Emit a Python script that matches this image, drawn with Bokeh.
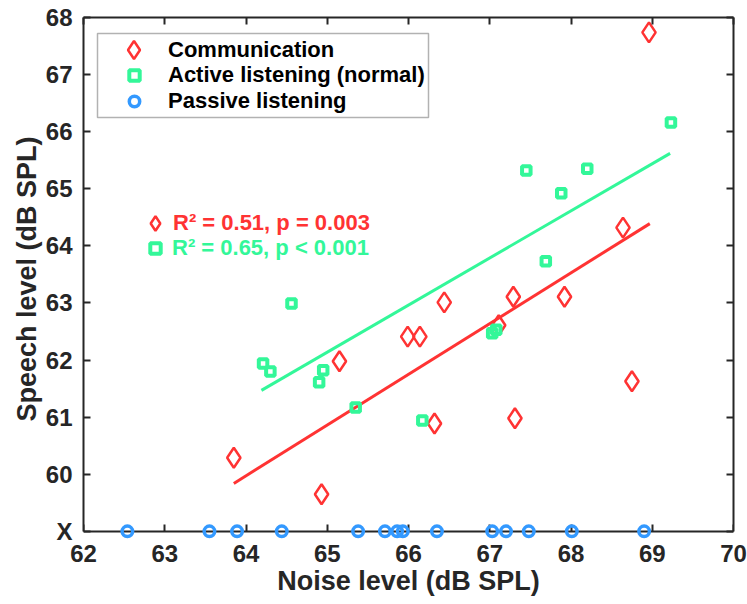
from bokeh.plotting import figure
from bokeh.models import (Range1d, LinearAxis, FixedTicker, Legend, LegendItem,
                          BoxAnnotation)
from bokeh.embed import file_html
from bokeh.resources import INLINE

# ---------------- data ----------------
comm_noise = [63.85, 64.93, 65.15, 65.99, 66.14, 66.32, 66.44, 67.11, 67.29, 67.31, 67.92, 68.64, 68.75, 68.96]
comm_speech = [60.29, 59.65, 61.98, 62.41, 62.41, 60.89, 63.01, 62.61, 63.11, 60.98, 63.11, 64.32, 61.63, 67.74]

active_noise = [64.21, 64.30, 64.56, 64.90, 64.95, 65.35, 66.17, 67.03, 67.08, 67.45, 67.69, 67.88, 68.20, 69.23]
active_speech = [61.94, 61.80, 62.99, 61.61, 61.82, 61.17, 60.94, 62.47, 62.53, 65.32, 63.73, 64.92, 65.35, 66.16]

passive_noise = [62.54, 63.55, 63.89, 64.44, 65.38, 65.71, 65.86, 65.93, 66.35, 67.03, 67.20, 67.48, 68.01, 68.90]
passive_speech = [59, 59, 59, 59, 59, 59, 59, 59, 59, 59, 59, 59, 59, 59]   # plotted on the "X" row

comm_fit_noise = [63.85, 68.97]
comm_fit_speech = [59.84, 64.39]
active_fit_noise = [64.19, 69.22]
active_fit_speech = [61.47, 65.62]

series_names = ["Communication", "Active listening (normal)", "Passive listening"]
stats_texts = ["R\u00b2 = 0.51, p = 0.003", "R\u00b2 = 0.65, p < 0.001"]
x_title = "Noise level (dB SPL)"
y_title = "Speech level (dB SPL)"

x_ticks = [62, 63, 64, 65, 66, 67, 68, 69, 70]
y_ticks = [59, 60, 61, 62, 63, 64, 65, 66, 67, 68]
y_tick_overrides = {59: "X"}

# ---------------- style ----------------
RED = "#FF3333"
GREEN = "#33F799"
BLUE = "#3399FF"
AX = "#262626"
FONT = "Liberation Sans"

p = figure(width=747, height=604, x_range=Range1d(62, 70), y_range=Range1d(58.84, 68),
           x_axis_type=None, y_axis_type=None, output_backend="svg", toolbar_location=None,
           min_border_left=83, min_border_right=14, min_border_top=17, min_border_bottom=64)
p.outline_line_color = None
p.xgrid.visible = False
p.ygrid.visible = False
p.background_fill_color = "white"
p.border_fill_color = "white"


def style_axis(ax, labels=True):
    ax.major_tick_in = 7
    ax.major_tick_out = 0
    ax.minor_tick_line_color = None
    ax.axis_line_color = AX
    ax.axis_line_width = 2
    ax.major_tick_line_color = AX
    ax.major_tick_line_width = 2
    ax.axis_label_text_font = FONT
    ax.axis_label_text_font_style = "bold"
    ax.axis_label_text_font_size = "27px"
    ax.axis_label_text_color = AX
    if labels:
        ax.major_label_text_font = FONT
        ax.major_label_text_font_style = "bold"
        ax.major_label_text_font_size = "24px"
        ax.major_label_text_color = AX
    else:
        # frame-side axes: ticks only, no tick labels at all
        ax.major_label_text_font_size = "0px"
        ax.major_label_text_color = None
        ax.major_label_standoff = 0


# bottom: tick labels + title (at frame bottom)
xb_labels = LinearAxis(ticker=FixedTicker(ticks=x_ticks), axis_label=x_title)
style_axis(xb_labels)
xb_labels.axis_line_color = None
xb_labels.major_tick_line_color = None
xb_labels.major_label_standoff = 4
xb_labels.axis_label_standoff = 1
p.add_layout(xb_labels, "below")

# bottom rule with ticks, fixed on the "X" row
xb_rule = LinearAxis(ticker=FixedTicker(ticks=x_ticks), fixed_location=59)
style_axis(xb_rule, labels=False)
p.add_layout(xb_rule, "below")

yl = LinearAxis(ticker=FixedTicker(ticks=y_ticks), axis_label=y_title,
                major_label_overrides=y_tick_overrides, bounds=(59, 68))
style_axis(yl)
yl.major_label_standoff = 11
yl.axis_label_standoff = 1
p.add_layout(yl, "left")

xt = LinearAxis(ticker=FixedTicker(ticks=x_ticks))
style_axis(xt, labels=False)
p.add_layout(xt, "above")

yr = LinearAxis(ticker=FixedTicker(ticks=y_ticks), bounds=(59, 68))
style_axis(yr, labels=False)
p.add_layout(yr, "right")

# ---------------- glyphs ----------------
r_comm = p.scatter(comm_noise, comm_speech, marker="diamond", size=20, fill_color=None,
                   line_color=RED, line_width=2.5)
p.line(comm_fit_noise, comm_fit_speech, line_color=RED, line_width=3)
r_act = p.scatter(active_noise, active_speech, marker="square", size=8.5, fill_color=None,
                  line_color=GREEN, line_width=4)
p.line(active_fit_noise, active_fit_speech, line_color=GREEN, line_width=3)
r_pas = p.scatter(passive_noise, passive_speech, marker="circle", size=10.5, fill_color=None,
                  line_color=BLUE, line_width=3.5, level="overlay")

# ---------------- legend (box + one entry per row) ----------------
p.add_layout(BoxAnnotation(left=14, right=345, top=507, bottom=423,
                           left_units="screen", right_units="screen",
                           top_units="screen", bottom_units="screen",
                           fill_color="white", fill_alpha=1.0,
                           line_color="black", line_width=1.5))


def add_entry(text, rend, color, loc, g, standoff):
    lg = Legend(items=[LegendItem(label=text, renderers=[rend])], location=loc, margin=0,
                padding=0, glyph_height=g, glyph_width=g, label_height=20,
                label_standoff=standoff, label_text_font=FONT, label_text_font_style="bold",
                label_text_font_size="22px", label_text_color=color,
                border_line_color=None, background_fill_alpha=0)
    p.add_layout(lg, "center")


add_entry(series_names[0], r_comm, "black", (28, 468), 45, 12)
add_entry(series_names[1], r_act, "black", (38, 452), 26, 21)
add_entry(series_names[2], r_pas, "black", (38, 426), 26, 21)

add_entry(stats_texts[0], r_comm, RED, (54, 299), 36, 0)
add_entry(stats_texts[1], r_act, GREEN, (59, 279), 26, 4)

open("out.html", "w").write(file_html(p, INLINE))
